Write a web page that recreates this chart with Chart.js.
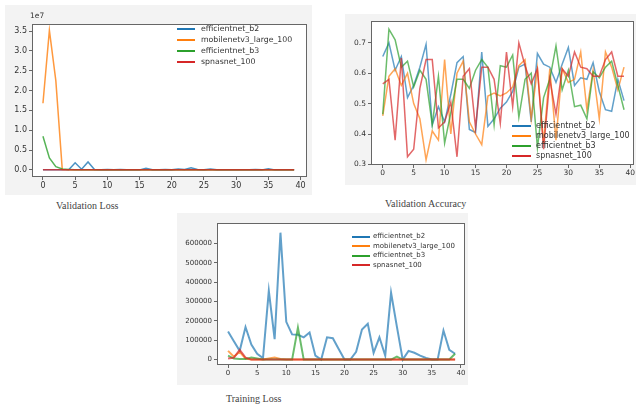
<!DOCTYPE html>
<html>
<head>
<meta charset="utf-8">
<script src="https://cdn.jsdelivr.net/npm/chart.js@4"></script>
<style>
  body { margin: 0; width: 636px; height: 406px; background: #fff; position: relative; overflow: hidden; font-family: "DejaVu Sans", sans-serif; }
  .panel { position: absolute; background: #f3f3f3; }
  .caption { position: absolute; font-family: "Liberation Serif", serif; font-size: 10px; font-weight: normal; color: #444; white-space: nowrap; }
  .legend { position: absolute; font-size: 7.5px; color: #333; }
  .legend div { position: relative; white-space: nowrap; }
  .legend span.ln { position: absolute; top: 50%; height: 2px; margin-top: -1px; }
  .exp { position: absolute; font-size: 7.5px; color: #333; }
</style>
</head>
<body>
<div class="panel" style="left:5px;top:5px;width:307px;height:190px"><canvas id="valLoss"></canvas></div>
<div class="panel" style="left:345px;top:14px;width:291px;height:171px"><canvas id="valAcc"></canvas></div>
<div class="panel" style="left:177px;top:213px;width:291px;height:172px"><canvas id="trainLoss"></canvas></div>

<div class="exp" style="left:30px;top:11px">1e7</div>
<div class="caption" style="left:56px;top:200px">Validation Loss</div>
<div class="caption" style="left:385px;top:198px">Validation Accuracy</div>
<div class="caption" style="left:226px;top:393px">Training Loss</div>

<div class="legend" id="leg1" style="left:177px;top:23px"></div>
<div class="legend" id="leg2" style="left:512px;top:121px"></div>
<div class="legend" id="leg3" style="left:352px;top:232px"></div>

<script>
const epochs = [];
for (let i = 0; i < 40; i++) epochs.push(i);

const modelNames = ['efficientnet_b2', 'mobilenetv3_large_100', 'efficientnet_b3', 'spnasnet_100'];
const modelColors = ['#1f77b4', '#ff7f0e', '#2ca02c', '#d62728'];
const xTicks = [0, 5, 10, 15, 20, 25, 30, 35, 40];

// validation loss
const valLossB2 = [0, 0, 0, 0, 10000, 1800000, 150000, 2000000, 100000, 0,
  80000, 50000, 100000, 60000, 0, 0, 400000, 50000, 0, 100000,
  50000, 200000, 100000, 500000, 100000, 0, 200000, 0, 0, 0,
  0, 0, 0, 100000, 0, 300000, 0, 0, 0, 0];
const valLossMob = [16800000, 35200000, 22500000, 100000, 0, 0, 0, 0, 0, 0,
  0, 0, 0, 0, 0, 0, 0, 0, 0, 0,
  0, 0, 0, 0, 0, 0, 0, 0, 0, 0,
  0, 0, 0, 0, 0, 0, 0, 0, 0, 0];
const valLossB3 = [8500000, 3000000, 800000, 200000, 100000, 0, 0, 0, 0, 0,
  0, 0, 0, 0, 0, 0, 0, 0, 0, 0,
  0, 0, 0, 0, 0, 0, 0, 0, 0, 0,
  0, 0, 0, 0, 0, 0, 0, 0, 0, 0];
const valLossSp = [0, 0, 0, 0, 0, 0, 0, 0, 0, 0,
  0, 0, 0, 0, 0, 0, 0, 0, 0, 0,
  0, 0, 0, 0, 0, 0, 0, 0, 0, 0,
  0, 0, 0, 0, 0, 0, 0, 0, 0, 0];
const valLossTicks = [0, 5000000, 10000000, 15000000, 20000000, 25000000, 30000000, 35000000];

// validation accuracy
const valAccB2 = [0.655, 0.70, 0.61, 0.655, 0.52, 0.56, 0.62, 0.695, 0.43, 0.49,
  0.44, 0.53, 0.635, 0.655, 0.415, 0.405, 0.67, 0.425, 0.45, 0.485,
  0.505, 0.54, 0.62, 0.63, 0.44, 0.665, 0.63, 0.62, 0.57, 0.63,
  0.685, 0.56, 0.585, 0.58, 0.635, 0.54, 0.48, 0.475, 0.58, 0.51];
const valAccMob = [0.46, 0.59, 0.615, 0.56, 0.60, 0.50, 0.45, 0.315, 0.41, 0.38,
  0.645, 0.40, 0.60, 0.64, 0.44, 0.40, 0.365, 0.525, 0.535, 0.525,
  0.535, 0.555, 0.625, 0.645, 0.45, 0.615, 0.37, 0.615, 0.38, 0.615,
  0.57, 0.58, 0.67, 0.48, 0.61, 0.45, 0.67, 0.62, 0.545, 0.62];
const valAccB3 = [0.465, 0.745, 0.71, 0.62, 0.64, 0.555, 0.61, 0.58, 0.43, 0.59,
  0.37, 0.47, 0.58, 0.58, 0.55, 0.61, 0.645, 0.62, 0.43, 0.625,
  0.62, 0.66, 0.455, 0.58, 0.60, 0.355, 0.52, 0.58, 0.69, 0.545,
  0.61, 0.49, 0.495, 0.45, 0.605, 0.585, 0.62, 0.64, 0.56, 0.48];
const valAccSp = [0.565, 0.58, 0.38, 0.65, 0.325, 0.35, 0.55, 0.645, 0.645, 0.42,
  0.44, 0.505, 0.325, 0.59, 0.615, 0.42, 0.62, 0.62, 0.58, 0.435,
  0.67, 0.49, 0.70, 0.625, 0.565, 0.615, 0.35, 0.58, 0.465, 0.615,
  0.59, 0.67, 0.62, 0.615, 0.59, 0.59, 0.645, 0.67, 0.59, 0.59];
const valAccTicks = [0.3, 0.4, 0.5, 0.6, 0.7];

// training loss
const trainB2 = [145000, 95000, 45000, 168000, 78000, 30000, 8000, 355000, 105000, 655000,
  195000, 130000, 128000, 115000, 140000, 20000, 0, 115000, 110000, 55000,
  0, 0, 40000, 155000, 185000, 35000, 115000, 20000, 345000, 170000,
  0, 45000, 35000, 20000, 8000, 0, 0, 150000, 50000, 30000];
const trainMob = [45000, 15000, 40000, 5000, 0, 0, 0, 5000, 10000, 3000,
  0, 0, 0, 0, 0, 0, 0, 0, 0, 0,
  0, 0, 0, 0, 0, 0, 0, 0, 0, 0,
  0, 0, 0, 0, 0, 0, 0, 0, 0, 0];
const trainB3 = [20000, 5000, 3000, 3000, 10000, 5000, 0, 0, 0, 0,
  0, 0, 165000, 0, 0, 0, 0, 0, 0, 0,
  0, 0, 0, 0, 0, 0, 0, 0, 0, 15000,
  0, 0, 0, 0, 0, 0, 0, 0, 0, 30000];
const trainSp = [5000, 10000, 50000, 10000, 0, 0, 0, 0, 0, 0,
  0, 0, 0, 0, 0, 0, 0, 0, 0, 0,
  0, 0, 0, 0, 0, 0, 0, 0, 0, 0,
  0, 0, 0, 0, 0, 0, 0, 0, 0, 0];
const trainTicks = [0, 100000, 200000, 300000, 400000, 500000, 600000];

// white plot area + frame like matplotlib
const plotBox = {
  id: 'plotBox',
  beforeDatasetsDraw(chart) {
    const a = chart.chartArea;
    const ctx = chart.ctx;
    ctx.save();
    ctx.fillStyle = '#fff';
    ctx.fillRect(a.left, a.top, a.width, a.height);
    ctx.restore();
  },
  afterDraw(chart) {
    const a = chart.chartArea;
    const ctx = chart.ctx;
    ctx.save();
    ctx.strokeStyle = '#666';
    ctx.lineWidth = 1;
    ctx.strokeRect(Math.round(a.left) + 0.5, Math.round(a.top) + 0.5, Math.round(a.width) - 1, Math.round(a.height) - 1);
    ctx.restore();
  }
};

function points(values) {
  return values.map((v, i) => ({ x: epochs[i], y: v }));
}

function datasets(series, alpha, width) {
  return series.map((s, i) => ({
    label: modelNames[i],
    data: points(s),
    borderColor: modelColors[i] + alpha,
    borderWidth: width,
    pointRadius: 0,
    tension: 0,
    order: series.length - i
  }));
}

function options(o) {
  return {
    responsive: true,
    maintainAspectRatio: false,
    animation: false,
    layout: { padding: o.padding },
    plugins: { legend: { display: false }, tooltip: { enabled: false } },
    scales: {
      x: {
        type: 'linear', min: o.xMin, max: o.xMax,
        afterBuildTicks: s => { s.ticks = xTicks.map(v => ({ value: v })); },
        afterFit: s => { s.height = o.xH; },
        grid: { drawOnChartArea: false, tickLength: 3, color: '#666' },
        border: { display: false },
        ticks: { font: { family: 'DejaVu Sans', size: o.font }, color: '#333', padding: 1, maxRotation: 0 }
      },
      y: {
        type: 'linear', min: o.yMin, max: o.yMax,
        afterBuildTicks: s => { s.ticks = o.yTicks.map(v => ({ value: v })); },
        afterFit: s => { s.width = o.yW; },
        grid: { drawOnChartArea: false, tickLength: 3, color: '#666' },
        border: { display: false },
        ticks: { font: { family: 'DejaVu Sans', size: o.font }, color: '#333', padding: 2, callback: o.fmt }
      }
    }
  };
}

const chart1 = new Chart(document.getElementById('valLoss'), {
  type: 'line',
  data: { datasets: datasets([valLossB2, valLossMob, valLossB3, valLossSp], 'cc', 1.5) },
  options: options({
    padding: { left: 0, top: 19, right: 5, bottom: 0 },
    xMin: -1.7, xMax: 41, yMin: -1800000, yMax: 36800000,
    yTicks: valLossTicks, xH: 18, yW: 27, font: 8,
    fmt: v => (v / 10000000).toFixed(1)
  }),
  plugins: [plotBox]
});

const chart2 = new Chart(document.getElementById('valAcc'), {
  type: 'line',
  data: { datasets: datasets([valAccB2, valAccMob, valAccB3, valAccSp], 'b3', 1.5) },
  options: options({
    padding: { left: 0, top: 7, right: 1, bottom: 0 },
    xMin: -1.9, xMax: 40.6, yMin: 0.298, yMax: 0.772,
    yTicks: valAccTicks, xH: 20, yW: 26, font: 7.5,
    fmt: v => v.toFixed(1)
  }),
  plugins: [plotBox]
});

const chart3 = new Chart(document.getElementById('trainLoss'), {
  type: 'line',
  data: { datasets: datasets([trainB2, trainMob, trainB3, trainSp], 'b3', 2) },
  options: options({
    padding: { left: 0, top: 10, right: 3, bottom: 0 },
    xMin: -1.9, xMax: 40.7, yMin: -28000, yMax: 705000,
    yTicks: trainTicks, xH: 20, yW: 40, font: 7,
    fmt: v => String(v)
  }),
  plugins: [plotBox]
});

function legend(id, lineW, gap, rowH, size) {
  const el = document.getElementById(id);
  el.style.fontSize = size + 'px';
  modelNames.forEach((name, i) => {
    const row = document.createElement('div');
    row.style.height = rowH + 'px';
    row.style.lineHeight = rowH + 'px';
    row.style.paddingLeft = (lineW + gap) + 'px';
    const ln = document.createElement('span');
    ln.className = 'ln';
    ln.style.left = '0px';
    ln.style.width = lineW + 'px';
    ln.style.background = modelColors[i];
    row.appendChild(ln);
    row.appendChild(document.createTextNode(name));
    el.appendChild(row);
  });
}
legend('leg1', 18, 6, 11, 7.8);
legend('leg2', 19, 5, 10, 8);
legend('leg3', 18, 3, 9.5, 7);
</script>
</body>
</html>
